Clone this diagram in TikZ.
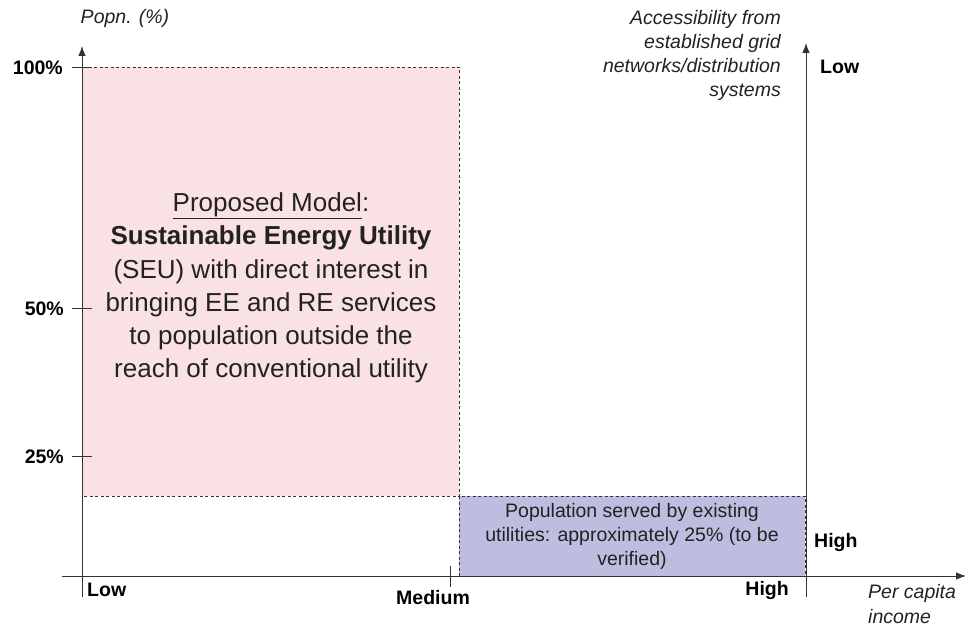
\documentclass[tikz,border=0pt]{standalone}
\usepackage{fontspec}
\setmainfont{Liberation Sans}
\usetikzlibrary{arrows.meta}
\definecolor{pinkfill}{HTML}{F9E1E4}
\definecolor{bluefill}{HTML}{BDBDE0}
\definecolor{txt}{HTML}{222222}
\tikzset{
  axis/.style={line width=0.9pt, draw=black!80},
  arr/.style={axis, -{Latex[length=10pt,width=7.5pt]}},
  dashbox/.style={draw=black!80, line width=0.7pt, dash pattern=on 3pt off 2.5pt},
  ital/.style={font=\fontsize{19.5}{24}\selectfont\itshape, text=txt, inner sep=0pt},
  lab/.style={font=\fontsize{19.5}{22}\selectfont\bfseries, text=black, inner sep=0pt},
}
\begin{document}
\begin{tikzpicture}[x=1pt,y=-1pt]
\useasboundingbox (0,0) rectangle (965,628);
% regions
\fill[pinkfill] (83,67) rectangle (459,496);
\fill[bluefill] (459,496) rectangle (805,576);
\draw[dashbox] (83,67) -- (459,67) -- (459,496) -- (83,496);
\draw[dashbox] (459,576) -- (459,496) -- (805,496) -- (805,576);
% axes
\coordinate (ybot) at (82,597);
\coordinate (ytop) at (82,46);
\coordinate (xl) at (62,576);
\coordinate (xr) at (966,576);
\coordinate (rbot) at (806,597);
\coordinate (rtop) at (806,43);
\draw[arr] (ybot) -- (ytop);
\draw[arr] (xl) -- (xr);
\draw[arr] (rbot) -- (rtop);
% ticks
\coordinate (t100a) at (72,67); \coordinate (t100b) at (92,67);
\coordinate (t50a) at (72,308); \coordinate (t50b) at (92,308);
\coordinate (t25a) at (72,456); \coordinate (t25b) at (92,456);
\coordinate (tma) at (450,566); \coordinate (tmb) at (450,587);
\draw[axis] (t100a) -- (t100b);
\draw[axis] (t50a) -- (t50b);
\draw[axis] (t25a) -- (t25b);
\draw[axis] (tma) -- (tmb);
% tick labels
\node[lab, anchor=east] (l100) at (63,68) {100\%};
\node[lab, anchor=east] (l50) at (64,309) {50\%};
\node[lab, anchor=east] (l25) at (64,457) {25\%};
\node[lab, anchor=west] (xlow) at (87,590) {Low};
\node[lab] (xmed) at (433,598) {Medium};
\node[lab, anchor=east] (xhigh) at (789,590) {High};
\node[lab, anchor=west] (rlow) at (820,67) {Low};
\node[lab, anchor=west] (rhigh) at (814,542) {High};
% axis titles
\node[ital] (ytitle) at (125,18) {Popn. (\%)};
\node[ital, align=right, anchor=north east] (rtitle) at (781,10) {Accessibility from\\established grid\\networks/distribution\\systems};
\node[ital, align=left, anchor=north west, font=\fontsize{19.5}{25}\selectfont\itshape] (xtitle) at (868,584) {Per capita\\income};
% main text
\node[font=\fontsize{26}{33.2}\selectfont, text=txt, align=center, inner sep=0pt] (seu) at (271,288)
  {\underline{Proposed Model}:\\
   \textbf{Sustainable Energy Utility}\\
   (SEU) with direct interest in\\
   bringing EE and RE services\\
   to population outside the\\
   reach of conventional utility};
\node[font=\fontsize{19.5}{24}\selectfont, text=txt, align=center, inner sep=0pt] (pop) at (632,536)
  {Population served by existing\\utilities: approximately 25\% (to be\\verified)};
\end{tikzpicture}
\end{document}
